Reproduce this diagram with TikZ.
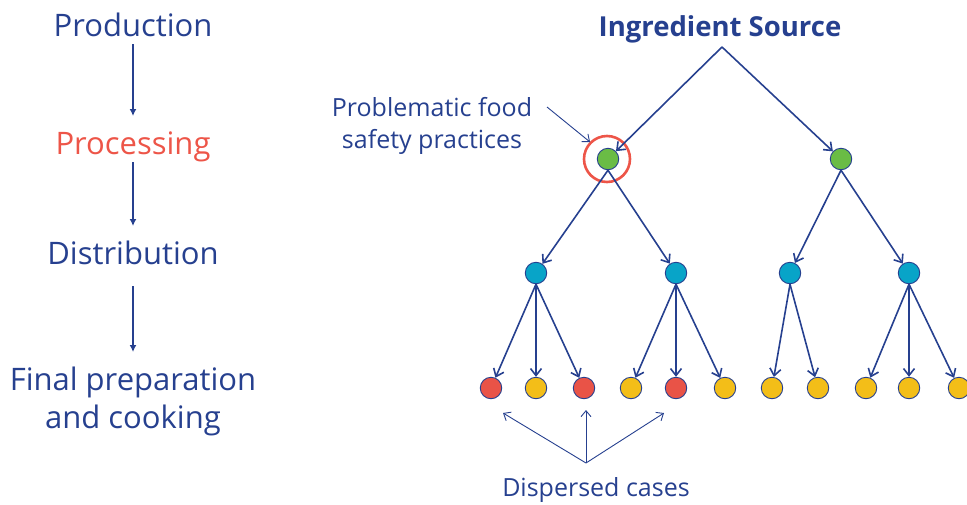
\documentclass[tikz,border=0pt]{standalone}
\usepackage{fontspec}
\setmainfont{Open Sans}
\usetikzlibrary{arrows.meta}
\definecolor{navy}{RGB}{38,64,143}
\definecolor{hot}{RGB}{237,85,72}
\definecolor{leafg}{RGB}{106,188,69}
\definecolor{leafc}{RGB}{8,164,200}
\definecolor{leafy}{RGB}{243,190,24}
\definecolor{leafr}{RGB}{233,83,71}
\begin{document}
\begin{tikzpicture}[x=1pt,y=-1pt,
  dot/.style={circle,draw=navy,line width=0.9pt,minimum size=21.5pt,inner sep=0pt},
  stage/.style={anchor=base,text=navy,font=\fontsize{31}{38}\selectfont,align=center},
  lbl/.style={anchor=base,text=navy,font=\fontsize{25}{32}\selectfont,align=center},
  tree/.style={draw=navy,line width=1.6pt,-{Straight Barb[length=7pt,width=11pt,line width=1.6pt]}},
  thin/.style={draw=navy,line width=0.9pt,-{Straight Barb[length=6pt,width=10pt,line width=0.9pt]}},
  flow/.style={draw=navy,line width=1.8pt,-{Latex[length=7pt,width=7pt]}}]
\useasboundingbox (0,0) rectangle (967,504);
% left column
\node[stage] (prod) at (133,36) {Production};
\node[stage,text=hot] (proc) at (133,154) {Processing};
\node[stage] (dist) at (133,264) {Distribution};
\node[stage,align=center] (fin) at (133,428) {Final preparation\\and cooking};
\coordinate (a1s) at (133,44); \coordinate (a1e) at (133,116);
\coordinate (a2s) at (133,162); \coordinate (a2e) at (133,226);
\coordinate (a3s) at (133,286); \coordinate (a3e) at (133,352);
\draw[flow] (a1s) -- (a1e);
\draw[flow] (a2s) -- (a2e);
\draw[flow] (a3s) -- (a3e);
% tree
\node[anchor=base,text=navy,font=\bfseries\fontsize{27.5}{32}\selectfont] (title) at (720,36) {Ingredient Source};
\coordinate (src) at (722,47);
\node[dot,fill=leafg] (g1) at (608,159) {};
\node[dot,fill=leafg] (g2) at (841,159) {};
\node[circle,draw=hot,line width=2.6pt,minimum size=46pt,inner sep=0pt] (ring) at (607,159) {};
\node[dot,fill=leafc] (b1) at (536,273) {};
\node[dot,fill=leafc] (b2) at (676,273) {};
\node[dot,fill=leafc] (b3) at (790,273) {};
\node[dot,fill=leafc] (b4) at (909,273) {};
\foreach \n/\x/\c in {1/491/leafr,2/536/leafy,3/584/leafr,4/631/leafy,5/676/leafr,6/725/leafy,7/772/leafy,8/818/leafy,9/866/leafy,10/909/leafy,11/959/leafy}
  \node[dot,fill=\c] (l\n) at (\x,388) {};
\draw[tree] (src) -- (g1);
\draw[tree] (src) -- (g2);
\draw[tree] (g1.south) -- (b1);
\draw[tree] (g1.south) -- (b2);
\draw[tree] (g2.south) -- (b3);
\draw[tree] (g2.south) -- (b4);
\foreach \b/\l in {b1/l1,b1/l2,b1/l3,b2/l4,b2/l5,b2/l6,b3/l7,b3/l8,b4/l9,b4/l10,b4/l11}
  \draw[tree] (\b.south) -- (\l);
% annotations
\node[lbl] (prob) at (432,148) {Problematic food\\safety practices};
\coordinate (ps) at (547,107); \coordinate (pe) at (590,142);
\draw[thin] (ps) -- (pe);
\node[lbl] (disp) at (596,496) {Dispersed cases};
\coordinate (dc) at (586,463);
\coordinate (d1) at (503,413); \coordinate (d2) at (586,410); \coordinate (d3) at (664,413);
\draw[thin] (dc) -- (d1);
\draw[thin] (dc) -- (d2);
\draw[thin] (dc) -- (d3);
\end{tikzpicture}
\end{document}
